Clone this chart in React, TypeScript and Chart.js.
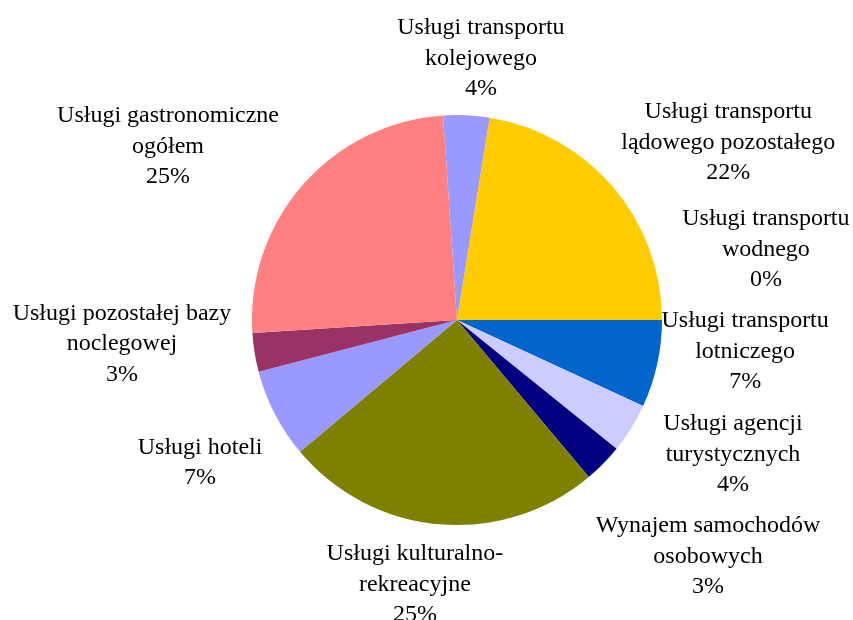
import React, { useEffect, useRef } from "react";
import { Chart, registerables } from "chart.js";

Chart.register(...registerables);

// Categories in clockwise order (label lines)
const categories: string[][] = [
  ["Usługi transportu", "kolejowego"],
  ["Usługi transportu", "lądowego pozostałego"],
  ["Usługi transportu", "wodnego"],
  ["Usługi transportu", "lotniczego"],
  ["Usługi agencji", "turystycznych"],
  ["Wynajem samochodów", "osobowych"],
  ["Usługi kulturalno-", "rekreacyjne"],
  ["Usługi hoteli"],
  ["Usługi pozostałej bazy", "noclegowej"],
  ["Usługi gastronomiczne", "ogółem"],
];

// Shares (%)
const values: number[] = [3.64, 22.44, 0, 6.89, 3.92, 3.08, 25.0, 7.06, 3.06, 24.92];

const colors: string[] = [
  "#9999FF",
  "#FFCC00",
  "#00CCFF",
  "#0066CC",
  "#CCCCFF",
  "#000080",
  "#808000",
  "#9999FF",
  "#993366",
  "#FF8080",
];

// Label placement: polar angle (deg, clockwise from 12 o'clock) and distance in radii
const labelAngles: number[] = [5.2, 56.6, 76.9, 95.9, 115.7, 133.1, 189.1, 241.2, 266.2, 301.2];
const labelDist: number[] = [1.288, 1.585, 1.547, 1.413, 1.494, 1.677, 1.299, 1.43, 1.638, 1.648];

const FONT = '24px "Liberation Serif", "Times New Roman", serif';
const LINE_H = 30.5;

const labelPlugin = {
  id: "pieLabels",
  afterDraw(chart: any) {
    const meta = chart.getDatasetMeta(0);
    const ctx = chart.ctx;
    const data = chart.data.datasets[0].data as number[];
    const total = data.reduce((a, b) => a + b, 0);
    ctx.save();
    ctx.font = FONT;
    ctx.fillStyle = "#000";
    ctx.textAlign = "center";
    ctx.textBaseline = "middle";
    meta.data.forEach((arc: any, i: number) => {
      const { x, y, outerRadius } = arc.getProps(["x", "y", "outerRadius"], true);
      const a = (labelAngles[i] * Math.PI) / 180;
      const d = labelDist[i] * outerRadius;
      const cx = x + d * Math.sin(a);
      const cy = y - d * Math.cos(a) + 1.5;
      const lines = [...categories[i], Math.round((data[i] / total) * 100) + "%"];
      const start = cy - ((lines.length - 1) * LINE_H) / 2;
      lines.forEach((ln, k) => ctx.fillText(ln, cx, start + k * LINE_H));
    });
    ctx.restore();
  },
};

export default function App() {
  const ref = useRef<HTMLCanvasElement>(null);
  useEffect(() => {
    if (!ref.current) return;
    const chart = new Chart(ref.current, {
      type: "pie",
      data: {
        labels: categories.map((c) => c.join(" ")),
        datasets: [
          {
            data: values,
            backgroundColor: colors,
            borderWidth: 0,
          },
        ],
      },
      options: {
        responsive: false,
        animation: false,
        rotation: -3.9,
        radius: 205,
        layout: { padding: { left: 252, right: 191, top: 115, bottom: 95 } },
        plugins: {
          legend: { display: false },
          tooltip: { enabled: false },
        },
      },
      plugins: [labelPlugin],
    });
    return () => chart.destroy();
  }, []);
  return (
    <div style={{ position: "fixed", left: 0, top: 0, width: 853, height: 620, background: "#fff" }}>
      <canvas ref={ref} width={853} height={620} />
    </div>
  );
}
